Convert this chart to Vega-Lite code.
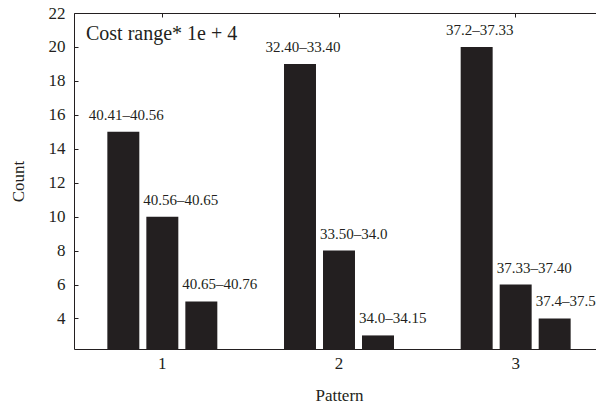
{
  "$schema": "https://vega.github.io/schema/vega-lite/v6.json",
  "width": 522,
  "height": 336,
  "autosize": "none",
  "padding": {"left": 74, "top": 13, "right": 0, "bottom": 62},
  "background": "white",
  "config": {
    "font": "Liberation Serif",
    "view": {"stroke": null},
    "axis": {"labelFont": "Liberation Serif", "titleFont": "Liberation Serif", "labelFontSize": 17, "titleFontSize": 17, "labelColor": "#231f20", "titleColor": "#231f20", "domainColor": "#231f20", "tickColor": "#231f20", "titleFontWeight": "normal", "grid": false, "labelOverlap": false}
  },
  "title": {"text": "Cost range* 1e + 4", "anchor": "start", "frame": "group", "font": "Liberation Serif", "fontSize": 20, "fontWeight": "normal", "color": "#231f20", "dx": 12, "dy": 50, "offset": 0, "baseline": "middle"},
  "data": {"values": [
    {"pattern": "1", "bin": "a", "count": 15, "range": "40.41–40.56"},
    {"pattern": "1", "bin": "b", "count": 10, "range": "40.56–40.65"},
    {"pattern": "1", "bin": "c", "count": 5, "range": "40.65–40.76"},
    {"pattern": "2", "bin": "a", "count": 19, "range": "32.40–33.40"},
    {"pattern": "2", "bin": "b", "count": 8, "range": "33.50–34.0"},
    {"pattern": "2", "bin": "c", "count": 3, "range": "34.0–34.15"},
    {"pattern": "3", "bin": "a", "count": 20, "range": "37.2–37.33"},
    {"pattern": "3", "bin": "b", "count": 6, "range": "37.33–37.40"},
    {"pattern": "3", "bin": "c", "count": 4, "range": "37.4–37.5"}
  ]},
  "encoding": {
    "x": {"field": "pattern", "type": "nominal", "scale": {"range": [0, 530], "paddingInner": 0, "paddingOuter": 0}},
    "xOffset": {"field": "bin", "type": "nominal", "scale": {"paddingInner": 0.18, "paddingOuter": 0.855}},
    "y": {"field": "count", "type": "quantitative", "title": "Count", "scale": {"domain": [2.2, 22], "nice": false, "zero": false}, "axis": {"values": [4, 6, 8, 10, 12, 14, 16, 18, 20, 22], "labelOverlap": false, "labelFlush": false, "tickSize": -4, "labelPadding": 13, "titleX": -47}}
  },
  "layer": [
    {
      "mark": {"type": "bar", "color": "#231f20"},
      "encoding": {
        "x": {"field": "pattern", "type": "nominal", "title": "Pattern", "scale": {"range": [0, 530], "paddingInner": 0, "paddingOuter": 0}, "axis": {"orient": "bottom", "labelAngle": 0, "tickSize": -4, "labelPadding": 10, "titleY": 38}},
        "y2": {"datum": 2.2}
      }
    },
    {
      "transform": [{"filter": "datum.bin === 'a'"}],
      "mark": {"type": "text", "baseline": "bottom", "align": "center", "dx": 3, "dy": -9, "fontSize": 15, "color": "#231f20"},
      "encoding": {
        "x": {"field": "pattern", "type": "nominal", "scale": {"range": [0, 530], "paddingInner": 0, "paddingOuter": 0}, "axis": {"orient": "top", "labels": false, "title": null, "tickSize": -4}},
        "text": {"field": "range"}
      }
    },
    {
      "transform": [{"filter": "datum.bin !== 'a'"}],
      "mark": {"type": "text", "baseline": "bottom", "align": "left", "dx": -19, "dy": -9, "fontSize": 15, "color": "#231f20"},
      "encoding": {
        "x": {"field": "pattern", "type": "nominal", "scale": {"range": [0, 530], "paddingInner": 0, "paddingOuter": 0}, "axis": null},
        "text": {"field": "range"}
      }
    }
  ],
  "resolve": {"axis": {"x": "independent"}}
}
